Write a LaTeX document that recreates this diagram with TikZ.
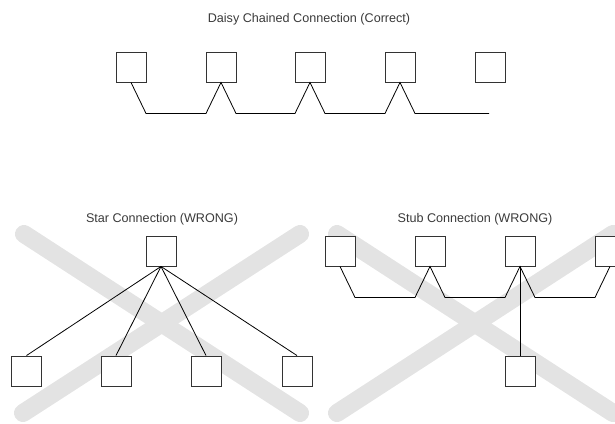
\documentclass[tikz,border=0pt]{standalone}
\usepackage{fontspec}
\setmainfont{Liberation Sans}
\usetikzlibrary{calc}
\definecolor{bandgray}{HTML}{E3E3E3}
\definecolor{boxline}{HTML}{333333}
\definecolor{txtgray}{HTML}{3A3A3A}
\tikzset{
  dev/.style={draw=boxline, fill=white, line width=0.9pt, minimum width=30pt, minimum height=30pt, inner sep=0pt},
  wire/.style={draw=black, line width=0.8pt, line join=miter},
  band/.style={draw=bandgray, line width=18pt, line cap=round},
  ttl/.style={text=txtgray, font=\fontsize{12.6}{15}\selectfont, anchor=base, inner sep=0pt}
}
\begin{document}
\begin{tikzpicture}[x=1pt,y=-1pt]
\useasboundingbox (0,0) rectangle (615,423);
\clip (0,0) rectangle (615,423);
% gray crosses
\draw[band] (24,234) -- (300,413);
\draw[band] (300,234) -- (23,413);
\draw[band] (337,234) -- (613,413);
\draw[band] (613,234) -- (337,413);
% titles
\node[ttl] (t1) at (309,22.5) {Daisy Chained Connection (Correct)};
\node[ttl] (t2) at (162,222.5) {Star Connection (WRONG)};
\node[ttl] (t3) at (475,222.5) {Stub Connection (WRONG)};
% daisy chain
\node[dev] (b1) at (131,67) {};
\node[dev] (b2) at (221,67) {};
\node[dev] (b3) at (310,67) {};
\node[dev] (b4) at (400,67) {};
\node[dev] (b5) at (490,67) {};
\coordinate (chainend) at ($(b4.south)+(89,31)$);
\draw[wire] (b1.south) -- ($(b1.south)+(15,31)$) -- ($(b2.south)+(-15,31)$) -- (b2.south)
  -- ($(b2.south)+(15,31)$) -- ($(b3.south)+(-15,31)$) -- (b3.south)
  -- ($(b3.south)+(15,31)$) -- ($(b4.south)+(-15,31)$) -- (b4.south)
  -- ($(b4.south)+(15,31)$) -- (chainend);
% star
\node[dev] (st) at (161,251) {};
\node[dev] (sa) at (26.5,371) {};
\node[dev] (sb) at (116,371) {};
\node[dev] (sc) at (206,371) {};
\node[dev] (sd) at (297,371) {};
\foreach \n in {sa,sb,sc,sd} \draw[wire] (st.south) -- (\n.north);
% stub
\node[dev] (u1) at (340,251) {};
\node[dev] (u2) at (430,251) {};
\node[dev] (u3) at (520,251) {};
\node[dev] (u4) at (610,251) {};
\node[dev] (u5) at (520,371) {};
\draw[wire] (u1.south) -- ($(u1.south)+(15,31)$) -- ($(u2.south)+(-15,31)$) -- (u2.south)
  -- ($(u2.south)+(15,31)$) -- ($(u3.south)+(-15,31)$) -- (u3.south)
  -- ($(u3.south)+(15,31)$) -- ($(u4.south)+(-15,31)$) -- (u4.south);
\draw[wire] (u3.south) -- (u5.north);
\end{tikzpicture}
\end{document}
